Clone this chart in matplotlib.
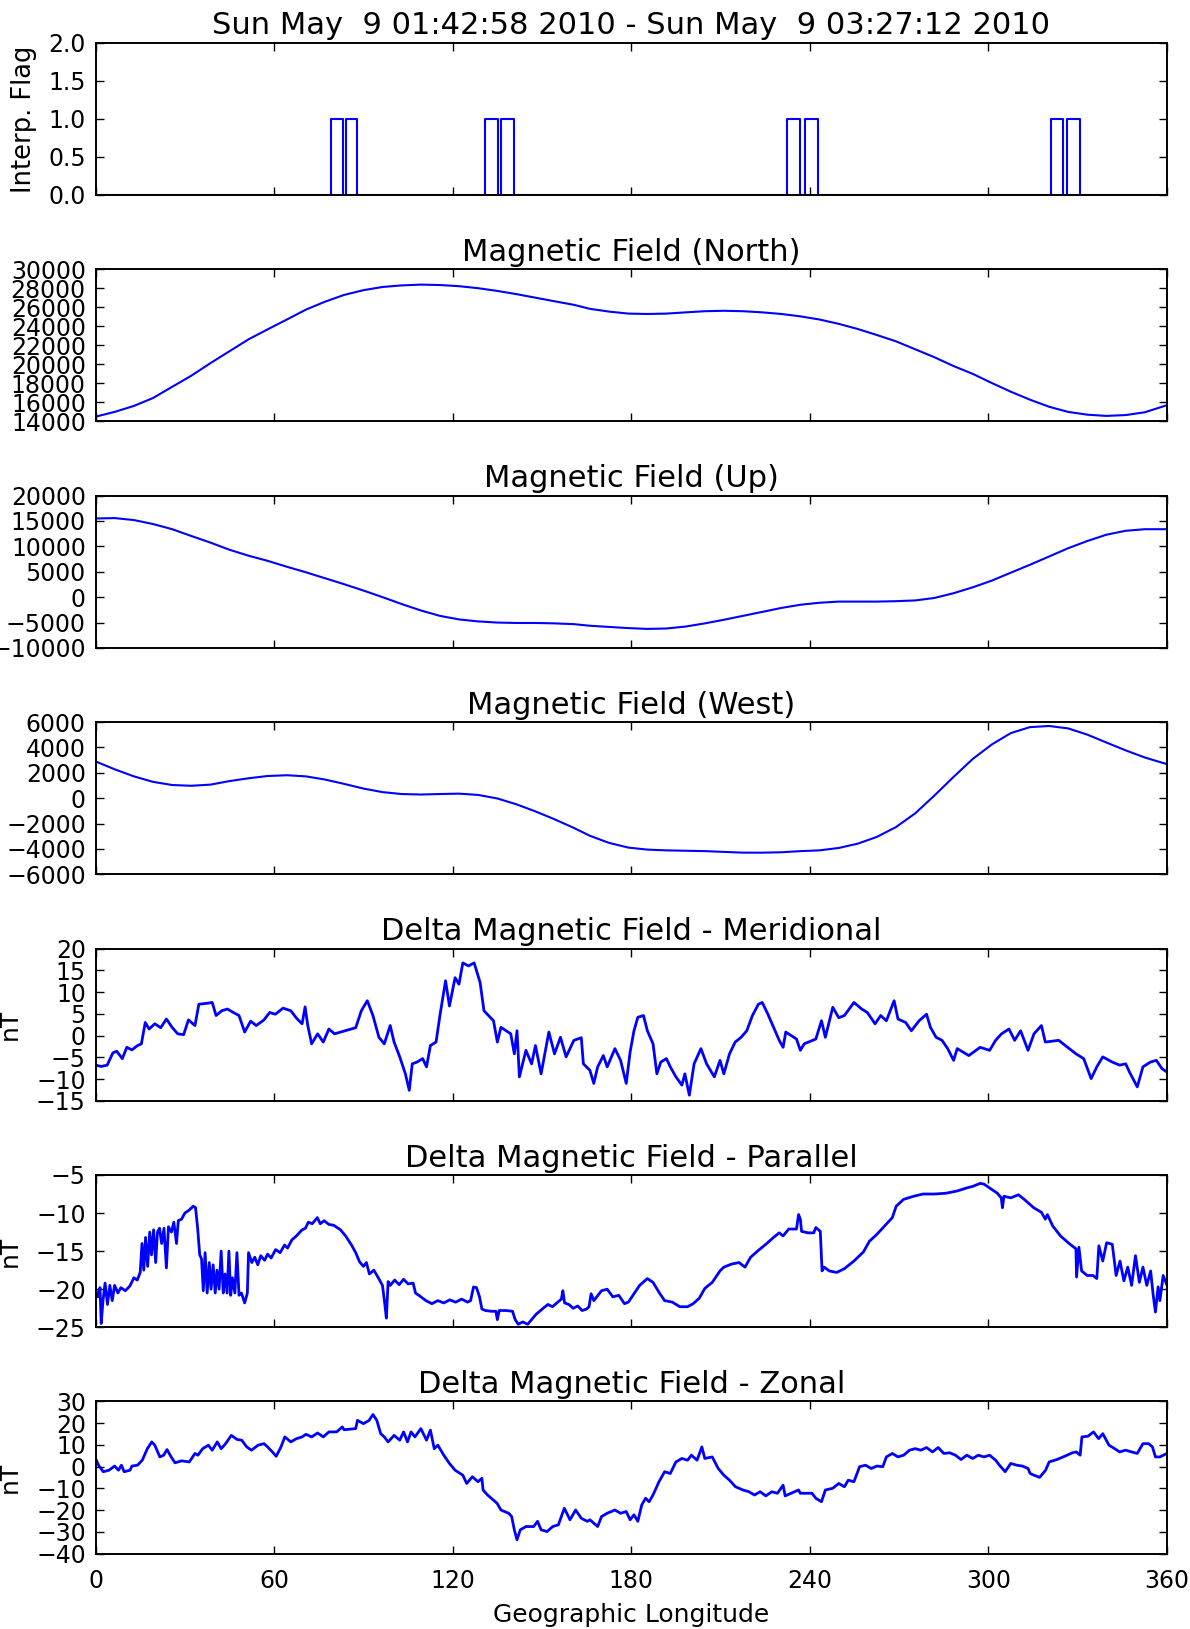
import numpy as np
import matplotlib
matplotlib.use("Agg")
import matplotlib.pyplot as plt

# ---------------------------------------------------------------- data
# Interpolation flag: longitude intervals where the flag is 1
flag_start = [79.0, 84.0, 130.7, 136.3, 232.4, 238.3, 320.9, 326.3]
flag_end = [83.0, 87.8, 135.3, 140.7, 236.6, 242.8, 325.2, 330.6]

# Background field components (nT) along the orbit
smooth_lon = [0, 6.4, 12.9, 19.3, 25.7, 32.1, 38.6, 45, 51.4, 57.8,
              64.3, 70.7, 77.1, 83.5, 90, 96.4, 102.8, 109.3, 115.7, 122.1,
              128.5, 135, 141.4, 147.8, 154.2, 160.7, 166.1, 172.5, 179, 185.4,
              191.8, 198.3, 204.7, 211.1, 217.5, 224, 230.4, 236.8, 243.2, 249.7,
              256.1, 262.5, 268.9, 275.4, 281.8, 288.2, 294.7, 301.1, 307.5, 313.9,
              320.4, 326.8, 333.2, 339.6, 346.1, 352.5, 360]
b_north = [14500, 15000, 15630, 16460, 17630, 18790, 20125, 21375, 22625, 23670,
           24710, 25750, 26580, 27290, 27790, 28125, 28290, 28375, 28330, 28210,
           28000, 27710, 27375, 27000, 26625, 26250, 25830, 25540, 25330, 25290,
           25330, 25460, 25580, 25625, 25580, 25460, 25290, 25040, 24710, 24250,
           23710, 23080, 22420, 21580, 20750, 19830, 19000, 18040, 17125, 16290,
           15540, 15000, 14710, 14580, 14670, 14960, 15710]
b_up = [15490, 15570, 15180, 14400, 13390, 12060, 10740, 9330, 8160, 7150,
        5980, 4890, 3720, 2550, 1300, 0, -1350, -2630, -3690, -4390,
        -4780, -5010, -5090, -5090, -5170, -5320, -5640, -5870, -6100, -6260,
        -6180, -5790, -5170, -4460, -3690, -2910, -2130, -1500, -1110, -880,
        -880, -880, -800, -650, -170, 760, 1930, 3250, 4810, 6370,
        8010, 9640, 11050, 12290, 13070, 13380, 13380]
b_west = [2900, 2280, 1720, 1290, 1040, 980, 1070, 1350, 1570, 1750,
          1810, 1720, 1470, 1130, 760, 480, 330, 290, 330, 360,
          260, -20, -480, -1040, -1660, -2340, -2960, -3520, -3890, -4050,
          -4110, -4140, -4170, -4230, -4290, -4290, -4260, -4170, -4110, -3920,
          -3580, -3050, -2280, -1190, 200, 1660, 3090, 4230, 5130, 5600,
          5690, 5500, 5010, 4390, 3770, 3210, 2680]

# Residual (delta) field, meridional component
mer_lon = [0, 1.9, 3.9, 5.8, 7.1, 9.0, 10.5, 12.2, 14.1, 15.4, 16.7, 18.0, 19.9, 21.9,
           23.8, 25.7, 27.6, 29.6, 31.2, 33.4, 34.7, 37.3, 39.2, 40.5, 42.4, 44.3, 46.3,
           48.2, 50.1, 52.1, 54.0, 56.6, 58.5, 60.4, 63.0, 65.6, 67.5, 69.4, 70.4, 71.3,
           72.6, 74.6, 76.5, 78.4, 80.3, 87.4, 89.3, 91.3, 93.2, 95.2, 97.0, 99.0, 100.3,
           102.2, 104.1, 105.4, 106.4, 108.0, 109.9, 111.2, 112.5, 114.4, 115.7, 117.6,
           118.9, 120.8, 122.1, 123.4, 125.3, 127.2, 129.2, 130.5, 133.7, 135.0, 136.2,
           139.5, 140.7, 141.6, 142.4, 144.6, 146.5, 147.8, 149.7, 152.3, 154.2, 156.2,
           158.1, 160.7, 163.2, 163.9, 166.1, 167.4, 168.7, 170.6, 171.9, 174.5, 176.4,
           178.3, 179.6, 180.9, 182.2, 184.1, 185.4, 187.3, 188.6, 189.9, 191.8, 193.1,
           195.0, 197.0, 198.0, 199.5, 201.1, 203.4, 205.3, 207.9, 209.8, 211.1, 213.0,
           214.9, 216.9, 218.8, 220.7, 222.7, 224.0, 225.9, 227.8, 229.7, 231.0, 231.9,
           235.5, 236.8, 238.1, 242.0, 243.9, 245.2, 247.7, 249.7, 251.6, 254.8, 257.4,
           259.3, 261.9, 263.8, 265.7, 268.3, 269.6, 272.2, 274.1, 276.7, 279.2, 280.5,
           282.4, 284.4, 286.3, 288.3, 289.5, 293.4, 297.2, 300.4, 302.4, 304.4, 306.9,
           308.8, 310.8, 313.3, 315.3, 317.8, 319.1, 323.6, 329.4, 332.0, 334.5, 336.4,
           338.4, 341.6, 344.1, 346.1, 347.4, 350.0, 351.9, 354.4, 356.4, 358.3, 360]
mer_val = [-6.8, -7.1, -6.8, -4.0, -3.6, -5.3, -2.7, -3.3, -2.3, -1.9, 3.0, 1.5, 2.7, 1.8,
           3.8, 1.9, 0.4, 0.2, 3.6, 2.3, 7.2, 7.4, 7.6, 4.6, 5.7, 6.1, 5.3,
           4.6, 0.8, 3.3, 2.3, 3.6, 5.3, 4.9, 6.3, 5.7, 4.0, 2.7, 6.6, 2.3,
           -1.9, 0.4, -1.5, 1.5, 0.4, 1.8, 5.7, 8.0, 4.6, -0.4, -1.9, 2.3, -1.5,
           -4.9, -8.8, -12.6, -6.5, -6.1, -5.3, -7.2, -2.3, -1.5, 4.6, 12.6,
           6.8, 13.3, 11.8, 16.7, 16.0, 16.7, 12.2, 5.7, 3.4, -1.5, 1.9,
           0.4, -4.2, 1.1, -9.5, -3.4, -6.5, -2.3, -8.8, 0.8, -4.2, -0.4,
           -4.9, -1.1, -0.5, -6.5, -8.0, -11.0, -7.2, -4.6, -7.2, -3.0, -5.7,
           -11.0, -3.8, 1.1, 4.2, 4.6, 1.1, -1.9, -8.8, -6.1, -5.3, -7.2,
           -9.5, -11.4, -8.8, -13.7, -6.5, -3.0, -6.5, -9.5, -5.7, -8.8, -4.2,
           -1.5, -0.4, 1.1, 4.6, 7.2, 7.6, 4.9, 1.9, -1.1, -2.7, 0.8,
           -0.8, -3.4, -1.9, -0.8, 3.4, -0.4, 6.5, 4.1, 4.6, 7.6, 6.1,
           5.3, 2.7, 4.6, 3.4, 8.0, 3.8, 3.0, 1.1, 3.4, 4.9, 1.9,
           -0.4, -1.1, -3.0, -5.7, -3.0, -4.6, -2.7, -3.4, -1.1, 0.4, 1.5,
           -1.1, 1.1, -3.4, 0.4, 2.3, -1.5, -1.1, -4.2, -5.3, -9.9, -7.2,
           -4.9, -6.1, -6.8, -6.5, -8.4, -11.8, -7.2, -6.1, -5.7, -7.6, -8.4]

# Residual field, parallel component
par_lon = [0, 0.8, 1.5, 1.9, 2.5, 3.2, 4.0, 4.8, 5.6, 6.4, 7.5, 8.5, 10.0, 11.5, 12.9,
           14.0, 15.0, 15.6, 16.2, 16.8, 17.5, 18.2, 18.8, 19.5, 20.2, 20.8, 21.5, 22.2,
           23.0, 23.8, 24.5, 25.5, 26.3, 27.2, 27.8, 28.9, 30.0, 31.5, 32.8, 33.6, 34.3,
           35.0, 35.6, 36.2, 36.8, 37.5, 38.2, 38.8, 39.5, 40.2, 40.8, 41.5, 42.2, 42.9,
           43.5, 44.2, 44.8, 45.4, 46.0, 46.8, 47.5, 48.2, 49.0, 50.1, 51.0, 51.4, 52.5,
           53.5, 54.5, 55.5, 56.8, 57.8, 59.0, 60.5, 62.0, 63.5, 64.5, 66.0, 67.5, 69.4,
           70.5, 71.5, 72.8, 74.5, 75.5, 76.8, 78.4, 80.0, 82.3, 84.0, 86.0, 87.4, 88.7,
           90.0, 91.0, 92.0, 93.5, 95.0, 96.4, 97.2, 97.7, 98.3, 99.0, 100.5, 102.0,
           103.5, 105.0, 106.7, 107.5, 109.3, 111.0, 113.0, 115.0, 117.0, 119.0, 121.0,
           123.0, 125.0, 126.0, 127.0, 128.0, 129.0, 129.8, 131.0, 133.0, 134.5, 135.0,
           135.6, 138.0, 140.1, 141.0, 142.0, 143.5, 145.2, 146.5, 148.0, 150.4, 152.0,
           153.5, 155.0, 156.5, 157.0, 157.6, 159.0, 160.5, 162.0, 163.5, 165.0, 165.8,
           166.5, 167.4, 170.0, 171.9, 173.8, 175.8, 177.7, 179.0, 180.9, 182.8, 185.4,
           187.3, 189.3, 191.2, 193.8, 196.3, 198.9, 200.8, 202.8, 204.7, 207.2, 209.8,
           211.1, 213.7, 216.2, 218.2, 220.1, 222.7, 225.2, 227.8, 229.7, 231.0, 232.9,
           235.5, 236.2, 236.8, 237.2, 239.4, 241.3, 242.0, 243.5, 244.1, 244.8, 246.5,
           249.0, 251.6, 254.8, 258.0, 260.0, 262.5, 265.1, 267.7, 269.0, 271.5, 274.8,
           278.0, 281.8, 285.7, 289.5, 292.7, 294.7, 297.2, 298.5, 300.4, 303.0, 304.3,
           304.7, 305.2, 307.5, 310.1, 312.0, 315.2, 317.8, 319.1, 319.8, 321.6, 324.2,
           326.8, 329.4, 329.6, 330.4, 331.3, 333.2, 335.1, 336.4, 337.1, 338.4, 339.7,
           341.6, 342.9, 344.2, 345.5, 346.8, 348.1, 349.4, 350.7, 351.9, 353.2, 354.5,
           355.3, 356.1, 357.0, 357.6, 358.7, 360]
par_val = [-20.0, -21.0, -19.8, -24.5, -21.5, -19.2, -22.0, -19.5, -21.5, -19.5, -20.5,
           -19.8, -20.2, -19.6, -18.5, -18.8, -17.8, -14.0, -17.5, -13.2, -17.0, -12.5,
           -15.5, -12.2, -16.5, -12.5, -12.0, -14.0, -12.0, -17.2, -11.8, -12.5, -11.2,
           -14.0, -11.0, -10.8, -10.0, -9.6, -9.1, -9.3, -12.0, -15.5, -16.0, -20.2,
           -15.2, -20.5, -16.5, -20.0, -16.8, -20.5, -17.5, -20.0, -15.0, -20.5, -18.0,
           -20.5, -15.0, -20.8, -18.5, -20.5, -15.2, -20.8, -20.5, -21.8, -20.5, -15.2,
           -16.5, -15.8, -16.8, -15.6, -16.2, -15.4, -15.9, -14.8, -15.2, -14.2, -14.6,
           -13.5, -13.0, -12.2, -12.0, -11.2, -11.4, -10.6, -11.4, -11.0, -11.5, -11.6,
           -12.2, -13.0, -14.2, -15.2, -16.4, -17.0, -16.5, -18.0, -17.5, -18.5, -19.5,
           -22.0, -23.8, -19.0, -19.5, -18.8, -19.4, -18.7, -19.3, -19.2, -20.5, -21.0,
           -21.5, -21.9, -21.5, -21.8, -21.4, -21.7, -21.3, -21.7, -21.5, -19.7, -19.8,
           -21.0, -22.6, -22.8, -22.9, -22.9, -24.0, -22.8, -22.8, -22.9, -24.0, -24.6,
           -24.3, -24.6, -24.0, -23.3, -22.5, -22.0, -22.3, -21.8, -21.3, -20.2, -21.8,
           -22.0, -22.5, -22.2, -22.8, -22.6, -22.3, -20.6, -21.5, -20.2, -20.0, -21.0,
           -20.8, -21.9, -21.7, -20.6, -19.5, -18.6, -19.1, -20.4, -21.5, -21.7, -22.3,
           -22.3, -21.9, -21.2, -19.9, -19.1, -17.6, -17.1, -16.7, -16.5, -17.1, -15.8,
           -14.9, -14.1, -13.2, -12.6, -13.0, -12.1, -12.1, -10.2, -10.8, -12.4, -12.6,
           -12.6, -11.9, -12.4, -17.6, -17.1, -17.6, -17.8, -17.3, -16.3, -15.1, -13.7,
           -12.8, -11.7, -10.6, -9.1, -8.2, -7.8, -7.5, -7.5, -7.4, -7.1, -6.7, -6.5,
           -6.1, -6.2, -6.7, -7.4, -8.0, -9.3, -7.8, -8.0, -7.6, -8.2, -9.3, -9.9,
           -10.8, -10.2, -11.7, -13.0, -13.9, -14.7, -18.4, -14.5, -17.6, -18.2, -18.2,
           -18.6, -14.3, -16.3, -13.9, -14.1, -18.2, -16.3, -18.9, -17.1, -19.5, -15.6,
           -19.1, -17.1, -19.5, -17.6, -20.6, -23.0, -19.7, -21.5, -18.2, -19.5]

# Residual field, zonal component
zon_lon = [0, 1.0, 2.6, 4.5, 6.4, 7.7, 8.7, 9.6, 11.6, 12.2, 14.1, 15.7, 17.4, 18.9,
           19.9, 21.6, 22.9, 24.0, 25.4, 26.7, 28.9, 31.5, 33.4, 34.4, 36.0, 37.9, 39.2,
           40.9, 42.2, 43.7, 45.6, 47.6, 49.1, 50.8, 52.4, 54.6, 56.6, 57.8, 59.4, 60.7,
           62.3, 63.6, 65.6, 67.5, 69.4, 70.7, 72.6, 74.6, 76.5, 78.4, 81.0, 82.9, 83.5,
           87.4, 88.0, 90.0, 91.9, 93.2, 94.5, 95.8, 97.0, 98.3, 100.3, 102.2, 103.5,
           104.8, 106.0, 107.3, 109.3, 111.2, 112.5, 113.8, 115.0, 117.0, 118.9, 120.8,
           123.4, 124.7, 126.6, 128.5, 129.8, 130.2, 131.7, 134.9, 136.2, 138.8, 139.8,
           140.7, 141.6, 142.7, 144.6, 147.2, 148.5, 149.7, 151.7, 153.6, 155.5, 157.5,
           159.4, 161.3, 163.2, 165.2, 166.1, 168.7, 170.0, 171.9, 174.5, 176.4, 178.3,
           179.6, 180.9, 182.2, 183.5, 184.8, 186.0, 187.3, 189.3, 191.2, 193.1, 195.0,
           197.0, 198.9, 200.2, 202.1, 203.7, 204.7, 207.2, 209.2, 211.1, 213.0, 215.0,
           217.5, 219.5, 221.4, 223.3, 225.2, 227.2, 229.1, 231.0, 231.7, 236.2, 236.8,
           240.7, 242.0, 243.9, 245.2, 247.7, 249.7, 251.6, 252.9, 254.8, 256.7, 258.7,
           260.6, 262.5, 264.5, 265.7, 267.7, 269.6, 271.5, 273.5, 275.4, 277.3, 279.2,
           281.2, 283.1, 285.0, 287.0, 288.9, 290.8, 292.7, 294.7, 296.6, 298.5, 300.4,
           302.4, 303.7, 305.6, 307.5, 309.5, 311.4, 313.3, 314.0, 315.3, 317.2, 319.2,
           320.4, 323.0, 325.6, 328.2, 329.5, 330.8, 331.4, 333.4, 335.3, 337.0, 338.4,
           340.5, 342.4, 344.1, 346.1, 348.1, 350.0, 351.9, 353.8, 355.1, 356.1, 357.6,
           360]
zon_val = [3.8, 0.7, -2.3, -1.6, 0.3, -1.6, 0.7, -2.3, -1.6, 0.3, 0.7, 3.0, 8.3, 11.4,
           9.9, 4.5, 5.3, 7.9, 4.5, 1.8, 2.7, 2.2, 6.1, 5.3, 8.3, 9.9, 7.6,
           11.4, 8.3, 10.6, 14.4, 12.5, 12.2, 9.1, 7.6, 9.9, 10.6, 9.1, 6.8, 4.8,
           9.1, 13.7, 11.4, 12.9, 13.7, 14.9, 13.7, 15.5, 13.7, 16.0, 16.0, 18.3, 17.0,
           17.5, 21.3, 19.8, 21.3, 24.0, 21.3, 15.2, 13.7, 11.4, 14.4, 12.2, 16.0,
           11.4, 16.0, 13.7, 17.5, 12.2, 16.8, 8.3, 9.9, 5.3, 1.5, -1.6,
           -3.9, -7.7, -4.6, -6.9, -5.3, -10.7, -13.0, -16.8, -19.9, -21.4, -22.9,
           -29.0, -33.6, -29.0, -27.5, -27.5, -25.1, -29.0, -29.8, -27.5, -26.7, -19.1,
           -24.4, -19.9, -23.7, -25.1, -24.4, -27.5, -22.9, -21.4, -19.9, -21.4, -20.6,
           -24.4, -22.1, -25.1, -17.6, -14.5, -16.1, -13.0, -6.9, -2.3, -3.1, 2.2,
           3.8, 3.0, 5.3, 3.0, 9.1, 3.8, 4.5, -0.8, -3.9, -6.2, -9.2,
           -10.7, -11.5, -13.0, -11.5, -13.4, -11.5, -12.2, -8.5, -13.4, -10.7, -12.2,
           -12.2, -14.5, -16.1, -10.7, -9.9, -7.7, -9.2, -6.2, -6.9, 0.0, 0.7,
           -0.8, 0.3, 0.0, 4.5, 6.1, 4.5, 5.3, 7.6, 8.3, 7.6, 8.8,
           6.8, 8.8, 6.1, 6.4, 5.3, 3.3, 5.3, 3.8, 5.3, 4.5, 5.3,
           3.0, 0.7, -2.3, 1.5, 0.7, 0.3, -0.8, -3.1, -3.9, -4.9, -1.6,
           2.2, 3.3, 4.8, 6.4, 6.8, 5.3, 13.7, 14.0, 16.0, 12.9, 15.2,
           9.9, 8.3, 6.8, 7.6, 6.8, 6.1, 10.6, 10.6, 9.1, 4.5, 4.5,
           6.1]

title_top = "Sun May  9 01:42:58 2010 - Sun May  9 03:27:12 2010"
lon_ticks = [0, 60, 120, 180, 240, 300, 360]

# ---------------------------------------------------------------- style
plt.rcParams.update({
    "font.family": ["DejaVu Sans"],
    "xtick.direction": "in",
    "ytick.direction": "in",
    "xtick.top": True,
    "ytick.right": True,
    "xtick.major.size": 6,
    "ytick.major.size": 6,
    "xtick.major.width": 1.0,
    "ytick.major.width": 1.0,
    "xtick.major.pad": 11,
    "ytick.major.pad": 7,
    "xtick.labelsize": 17,
    "ytick.labelsize": 17,
    "axes.linewidth": 1.4,
    "axes.titlesize": 22,
    "axes.labelsize": 18,
})
smooth_kw = dict(color="#0000ff", lw=1.5)
noisy_kw = dict(color="#0000ff", lw=2.0)

fig, axes = plt.subplots(7, 1, sharex=True, figsize=(11.9, 16.29), dpi=100)
fig.patch.set_facecolor("white")
fig.subplots_adjust(left=0.0803, right=0.9807, top=0.9738, bottom=0.0462,
                    hspace=0.487)

# flag as a step trace
fx, fy = [0.0], [0.0]
for s, e in zip(flag_start, flag_end):
    fx += [s, s, e, e]
    fy += [0, 1, 1, 0]
fx.append(360.0)
fy.append(0.0)

ax = axes[0]
ax.plot(fx, fy, **smooth_kw)
ax.set_ylim(0, 2)
ax.set_yticks(np.arange(0, 2.01, 0.5))
ax.set_title(title_top)
ax.set_ylabel("Interp. Flag", fontsize=18.5)
ax.yaxis.set_label_coords(-0.0547, 0.5)

panels = [
    (axes[1], smooth_lon, b_north, "Magnetic Field (North)", (14000, 30000), 2000, None, smooth_kw),
    (axes[2], smooth_lon, b_up, "Magnetic Field (Up)", (-10000, 20000), 5000, None, smooth_kw),
    (axes[3], smooth_lon, b_west, "Magnetic Field (West)", (-6000, 6000), 2000, None, smooth_kw),
    (axes[4], mer_lon, mer_val, "Delta Magnetic Field - Meridional", (-15, 20), 5, "nT", noisy_kw),
    (axes[5], par_lon, par_val, "Delta Magnetic Field - Parallel", (-25, -5), 5, "nT", noisy_kw),
    (axes[6], zon_lon, zon_val, "Delta Magnetic Field - Zonal", (-40, 30), 10, "nT", noisy_kw),
]
for ax, xs, ys, ttl, lim, step, ylab, kw in panels:
    ax.plot(xs, ys, **kw)
    ax.set_ylim(*lim)
    ax.set_yticks(np.arange(lim[0], lim[1] + step * 0.01, step))
    ax.set_title(ttl)
    if ylab:
        ax.set_ylabel(ylab)
        ax.yaxis.set_label_coords(-0.0685, 0.5)

for ax in axes:
    ax.set_xlim(0, 360)
    ax.set_xticks(lon_ticks)
axes[-1].set_xlabel("Geographic Longitude", labelpad=7)

fig.savefig("out.png", dpi=100, facecolor="white")
